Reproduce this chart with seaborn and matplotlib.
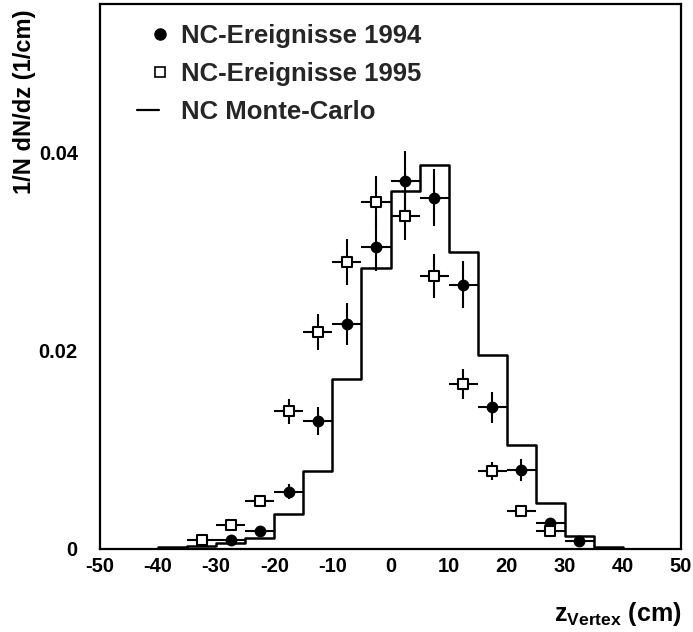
import numpy as np
import pandas as pd
import matplotlib
matplotlib.use("Agg")
import matplotlib.pyplot as plt
from matplotlib.ticker import FixedLocator, FixedFormatter, MultipleLocator
from matplotlib.lines import Line2D
from matplotlib.legend_handler import HandlerLine2D
import seaborn as sns

sns.set_theme(style="white")
plt.rcParams["font.family"] = ["Liberation Sans", "DejaVu Sans"]
plt.rcParams["font.weight"] = "bold"
plt.rcParams["mathtext.fontset"] = "custom"
plt.rcParams["mathtext.rm"] = "Liberation Sans:bold"
plt.rcParams["mathtext.bf"] = "Liberation Sans:bold"
plt.rcParams["mathtext.it"] = "Liberation Sans:bold"

# NC events 1994 (bin centres in cm, normalised rate, stat. error)
z_1994 = [-27.5, -22.5, -17.5, -12.5, -7.5, -2.5, 2.5, 7.5, 12.5, 17.5, 22.5, 27.5, 32.5]
val_1994 = [0.0009, 0.0018, 0.0058, 0.0129, 0.0227, 0.0305, 0.0372, 0.0355,
            0.0267, 0.0143, 0.0080, 0.0026, 0.0008]
err_1994 = [0.0003, 0.0004, 0.0008, 0.0014, 0.0021, 0.0024, 0.0030, 0.0029,
            0.0024, 0.0016, 0.0011, 0.0005, 0.0003]

# NC events 1995
z_1995 = [-32.5, -27.5, -22.5, -17.5, -12.5, -7.5, -2.5, 2.5, 7.5, 12.5, 17.5, 22.5, 27.5]
val_1995 = [0.0009, 0.0024, 0.0048, 0.0139, 0.0219, 0.0290, 0.0351, 0.0336,
            0.0276, 0.0167, 0.0079, 0.0038, 0.0018]
err_1995 = [0.0002, 0.0003, 0.0005, 0.0013, 0.0018, 0.0023, 0.0026, 0.0024,
            0.0022, 0.0015, 0.0009, 0.0005, 0.0004]

# NC Monte-Carlo histogram
mc_edges = [-40, -35, -30, -25, -20, -15, -10, -5, 0, 5, 10, 15, 20, 25, 30, 35, 40]
mc_val = [0.0002, 0.0003, 0.0006, 0.0011, 0.0035, 0.0079, 0.0172, 0.0284,
          0.0362, 0.0388, 0.0300, 0.0196, 0.0105, 0.0046, 0.0013, 0.0002]

bin_half_width = 2.5

x_ticks = [-50, -40, -30, -20, -10, 0, 10, 20, 30, 40, 50]
x_ticklabels = ["-50", "-40", "-30", "-20", "-10", "0", "10", "20", "30", "40", "50"]
y_ticks = [0, 0.02, 0.04]
y_ticklabels = ["0", "0.02", "0.04"]


class MarkerShiftHandler(HandlerLine2D):
    """Legend handler that draws the marker to the right of the handle centre."""

    def __init__(self, shift, **kwargs):
        super().__init__(**kwargs)
        self.shift = shift

    def create_artists(self, legend, orig_handle, xdescent, ydescent, width,
                       height, fontsize, trans):
        artists = super().create_artists(legend, orig_handle, xdescent, ydescent,
                                         width, height, fontsize, trans)
        for art in artists:
            if art.get_marker() not in (None, "None", "", " "):
                art.set_xdata(np.asarray(art.get_xdata()) + self.shift)
        return artists


fig = plt.figure(figsize=(6.93, 6.32), dpi=100)
ax = fig.add_axes([100 / 693, 83 / 632, 581 / 693, 545 / 632])

edges = np.asarray(mc_edges, dtype=float)
mc_df = pd.DataFrame({"z": 0.5 * (edges[:-1] + edges[1:]), "w": mc_val})
sns.histplot(data=mc_df, x="z", weights="w", bins=list(mc_edges), element="step",
             fill=False, color="black", linewidth=1.8, ax=ax, zorder=2)

ax.errorbar(z_1994, val_1994, xerr=bin_half_width, yerr=err_1994, fmt="none",
            ecolor="black", elinewidth=1.5, capsize=0, zorder=3)
ax.errorbar(z_1995, val_1995, xerr=bin_half_width, yerr=err_1995, fmt="none",
            ecolor="black", elinewidth=1.5, capsize=0, zorder=3)

sns.scatterplot(x=z_1994, y=val_1994, marker="o", s=72, color="black",
                edgecolor="black", linewidth=0, ax=ax, zorder=4)
sns.scatterplot(x=z_1995, y=val_1995, marker="s", s=55, facecolor="white",
                edgecolor="black", linewidth=1.5, ax=ax, zorder=5)

ax.set_xlim(-50, 50)
ax.set_ylim(0, 0.05505)

ax.xaxis.set_major_locator(FixedLocator(x_ticks))
ax.xaxis.set_major_formatter(FixedFormatter(x_ticklabels))
ax.xaxis.set_minor_locator(MultipleLocator(2))
ax.yaxis.set_major_locator(FixedLocator(y_ticks))
ax.yaxis.set_major_formatter(FixedFormatter(y_ticklabels))
ax.yaxis.set_minor_locator(MultipleLocator(0.005))

ax.tick_params(axis="both", which="both", direction="in", color="black",
               top=False, right=False, labelsize=14.5, labelcolor="black")
ax.tick_params(axis="x", which="major", length=8, width=1.2, pad=6)
ax.tick_params(axis="x", which="minor", length=4.3, width=1.2)
ax.tick_params(axis="y", which="major", length=8.5, width=1.2, pad=16)
ax.tick_params(axis="y", which="minor", length=4.3, width=1.2)

for side, spine in ax.spines.items():
    spine.set_visible(True)
    spine.set_color("black")
    spine.set_linewidth(1.6)

ax.set_xlabel(r"$\mathbf{z}_{\mathbf{Vertex}}$ (cm)", fontsize=18, fontweight="bold",
              ha="right", color="black")
ax.xaxis.set_label_coords(1.0, -0.094)
ax.set_ylabel("1/N dN/dz (1/cm)", fontsize=17, fontweight="bold", ha="right",
              color="black")
ax.yaxis.set_label_coords(-0.11, 0.99)

handles = [
    Line2D([], [], marker="o", color="black", linestyle="none", markersize=8),
    Line2D([], [], marker="s", markerfacecolor="white", markeredgecolor="black",
           markeredgewidth=1.2, linestyle="none", markersize=7.5),
    Line2D([], [], color="black", linewidth=1.6),
]
labels = ["NC-Ereignisse 1994", "NC-Ereignisse 1995", "NC Monte-Carlo"]
marker_handler = MarkerShiftHandler(shift=9.0, numpoints=1)
ax.legend(handles, labels, loc="upper left", bbox_to_anchor=(0.046, 0.982),
          frameon=False, fontsize=18.5, handlelength=0.85, handletextpad=0.85,
          labelspacing=0.55, borderaxespad=0, numpoints=1,
          handler_map={handles[0]: marker_handler, handles[1]: marker_handler})

fig.savefig("out.png", dpi=100)
